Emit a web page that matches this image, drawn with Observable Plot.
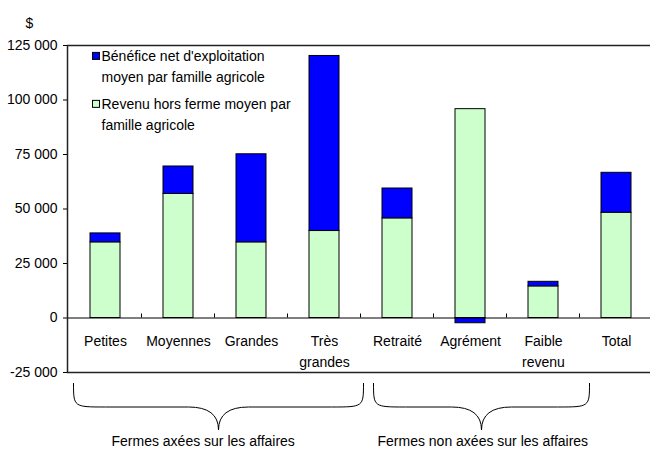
<!DOCTYPE html>
<html><head><meta charset="utf-8">
<script src="https://cdn.jsdelivr.net/npm/d3@7"></script>
<script src="https://cdn.jsdelivr.net/npm/@observablehq/plot@0.6"></script>
<style>
html,body{margin:0;padding:0;background:#fff;overflow:hidden;}
</style></head><body><div id="chart"></div>
<script>
const categories = ["Petites","Moyennes","Grandes","Très grandes","Retraité","Agrément","Faible revenu","Total"];
const categoryLabels = ["Petites","Moyennes","Grandes","Très\ngrandes","Retraité","Agrément","Faible\nrevenu","Total"];
const revenuHorsFerme = [34700, 56900, 34700, 39900, 45700, 95800, 14500, 48300];
const beneficeNet = [4100, 12600, 40400, 80300, 13700, -2400, 2100, 18300];
const seriesNames = ["Bénéfice net d'exploitation moyen par famille agricole", "Revenu hors ferme moyen par famille agricole"];
const seriesLegendLines = [["Bénéfice net d'exploitation","moyen par famille agricole"],["Revenu hors ferme moyen par","famille agricole"]];
const seriesColors = ["#0000ff", "#ccffcc"];
const yTicks = [-25000, 0, 25000, 50000, 75000, 100000, 125000];
const groupLabels = ["Fermes axées sur les affaires", "Fermes non axées sur les affaires"];
const groupFirst = ["Petites", "Retraité"];
const groupLast = ["Très grandes", "Faible revenu"];
const yUnit = "$";

const rows = [];
categories.forEach((c, i) => {
  rows.push({category: c, series: seriesNames[1], value: revenuHorsFerme[i]});
  rows.push({category: c, series: seriesNames[0], value: beneficeNet[i]});
});

const fmt = d => (d < 0 ? "-" : "") + d3.format(",")(Math.abs(d)).replace(/,/g, " ");
const FONT = "'Liberation Sans', Arial, sans-serif";

const plot = Plot.plot({
  width: 650, height: 449,
  marginLeft: 67, marginRight: -4, marginTop: 45, marginBottom: 77,
  style: {fontFamily: FONT, fontSize: "14px", color: "#000", background: "#fff", overflow: "visible"},
  x: {domain: categories, paddingInner: 0.59, paddingOuter: 0.295, axis: null},
  y: {domain: [-25000, 125000], axis: null},
  color: {domain: seriesNames, range: seriesColors},
  marks: [
    Plot.barY(rows, Plot.stackY({x: "category", y: "value", fill: "series", stroke: "#000", strokeWidth: 1})),
    Plot.ruleY([0], {stroke: "#000", strokeWidth: 1}),
    Plot.frame({stroke: "#222", strokeWidth: 1.5}),
    Plot.axisY(yTicks, {tickSize: 4, tickPadding: 6, tickFormat: fmt, fontSize: 14, stroke: "#000", label: null}),
    Plot.text(categories, {x: d => d, y: 0, text: (d, i) => categoryLabels[i], lineAnchor: "top", dy: 13, lineHeight: 1.5, fontSize: 14}),
    Plot.text([yUnit], {frameAnchor: "top-left", dx: -42, dy: -27, fontSize: 14})
  ]
});

const svg = d3.select(plot);
const xs = plot.scale("x");
const ys = plot.scale("y");
const step = xs.step, bw = xs.bandwidth;
const boundary = i => xs.apply(categories[i]) - (step - bw) / 2;
const y0 = ys.apply(0);

// category separator ticks on the zero line
for (let i = 1; i < categories.length; i++) {
  const bx = boundary(i);
  svg.append("line").attr("x1", bx).attr("x2", bx).attr("y1", y0).attr("y2", y0 - 4)
    .attr("stroke", "#000").attr("stroke-width", 1);
}

// legend
const lg = svg.append("g").attr("font-family", FONT).attr("font-size", 14).attr("text-anchor", "start");
const legendTop = [ys.apply(120000), ys.apply(98000)];
seriesLegendLines.forEach((lines, k) => {
  const ty = legendTop[k];
  lg.append("rect").attr("x", boundary(0) + 24).attr("y", ty - 3.5).attr("width", 7).attr("height", 7)
    .attr("fill", seriesColors[k]).attr("stroke", "#000").attr("stroke-width", 1);
  lines.forEach((ln, j) => {
    lg.append("text").attr("x", boundary(0) + 33).attr("y", ty + j * 21).attr("dy", "0.35em")
      .attr("text-anchor", "start").text(ln);
  });
});

// braces
const braceTop = 383, braceMid = 407, braceTip = 430;
groupLabels.forEach((label, g) => {
  const i0 = categories.indexOf(groupFirst[g]);
  const i1 = categories.indexOf(groupLast[g]) + 1;
  const xa = boundary(i0) + (g === 0 ? 5 : 13);
  const xb = (i1 < categories.length ? boundary(i1) : boundary(i1 - 1) + step) + (g === 0 ? 3 : 10);
  const xm = (xa + xb) / 2;
  const r = 32, rt = 30;
  const p = `M${xa},${braceTop} C${xa},${braceMid} ${xa},${braceMid} ${xa + r},${braceMid} L${xm - rt},${braceMid} Q${xm},${braceMid} ${xm},${braceTip} Q${xm},${braceMid} ${xm + rt},${braceMid} L${xb - r},${braceMid} C${xb},${braceMid} ${xb},${braceMid} ${xb},${braceTop}`;
  svg.append("path").attr("d", p).attr("fill", "none").attr("stroke", "#000").attr("stroke-width", 1);
  svg.append("text").attr("x", xa + (g === 0 ? 38 : 4)).attr("y", 441).attr("dy", "0.35em").attr("text-anchor", "start")
    .attr("font-family", FONT).attr("font-size", 14).text(label);
});

document.getElementById("chart").append(plot);
</script>
</body></html>
